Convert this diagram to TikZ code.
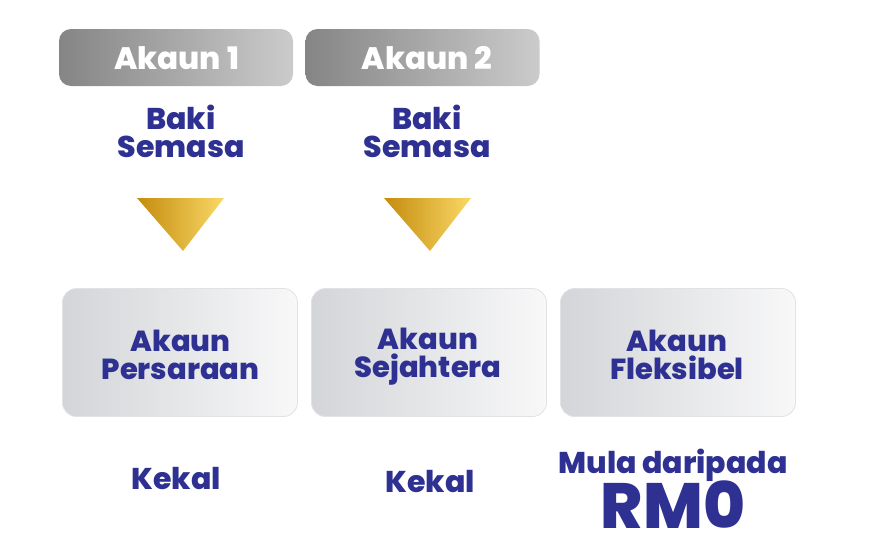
\documentclass[tikz,border=0pt]{standalone}
\usepackage{fontspec}
\setmainfont{Poppins}[BoldFont={Poppins ExtraBold}]
\definecolor{navy}{HTML}{2E3192}
\definecolor{hdark}{HTML}{858585}
\definecolor{hlight}{HTML}{CBCBCB}
\definecolor{bdark}{HTML}{D3D5D8}
\definecolor{blight}{HTML}{F8F8F9}
\definecolor{bline}{HTML}{E2E2E4}
\definecolor{gdark}{HTML}{C48C0E}
\definecolor{glight}{HTML}{FAD866}
\tikzset{
  hdr/.style={rectangle, rounded corners=12pt, minimum width=234pt, minimum height=57pt, inner sep=0pt, left color=hdark, right color=hlight},
  card/.style={rectangle, rounded corners=14pt, minimum width=235pt, minimum height=128pt, inner sep=0pt, left color=bdark, right color=blight, draw=bline, line width=0.8pt},
  hdrtxt/.style={anchor=base, inner sep=0pt, text=white, font=\fontsize{31}{31}\selectfont\bfseries},
  lbl/.style={anchor=base, inner sep=0pt, text=navy, font=\fontsize{30}{30}\selectfont\bfseries},
  clbl/.style={lbl, font=\fontsize{29}{29}\selectfont\bfseries},
  big/.style={anchor=base, inner sep=0pt, text=navy, font=\fontsize{64}{64}\selectfont\bfseries},
}
\begin{document}
\begin{tikzpicture}[x=1pt,y=-1pt]
\useasboundingbox (0,0) rectangle (876,555);
% headers
\node[hdr] (h1) at (176,57.5) {};
\node[hdr] (h2) at (422.5,57.5) {};
\node[hdrtxt] (h1t) at (176.5,69) {Akaun 1};
\node[hdrtxt] (h2t) at (427,69) {Akaun 2};
% baki semasa
\node[lbl] (b1a) at (181,129) {Baki};
\node[lbl] (b1b) at (181,157) {Semasa};
\node[lbl] (b2a) at (427,129) {Baki};
\node[lbl] (b2b) at (427,157) {Semasa};
% triangles
\coordinate (t1l) at (137,198); \coordinate (t1r) at (224,198); \coordinate (t1a) at (183,251);
\coordinate (t2l) at (384,198); \coordinate (t2r) at (471,198); \coordinate (t2a) at (430,251);
\shade[left color=gdark, right color=glight] (t1l) -- (t1r) -- (t1a) -- cycle;
\shade[left color=gdark, right color=glight] (t2l) -- (t2r) -- (t2a) -- cycle;
% cards
\node[card] (c1) at (180,352.5) {};
\node[card] (c2) at (429,352.5) {};
\node[card] (c3) at (678,352.5) {};
\node[clbl] (c1a) at (180.5,351) {Akaun};
\node[clbl] (c1b) at (180.5,379) {Persaraan};
\node[clbl] (c2a) at (428,349) {Akaun};
\node[clbl] (c2b) at (428,377) {Sejahtera};
\node[clbl] (c3a) at (677,351) {Akaun};
\node[clbl] (c3b) at (677,379) {Fleksibel};
% bottom
\node[lbl] (k1) at (176,489) {Kekal};
\node[lbl] (k2) at (430,492) {Kekal};
\node[lbl] (m3) at (673,473) {Mula daripada};
\node[big] (r3) at (673,528) {RM0};
\end{tikzpicture}
\end{document}
